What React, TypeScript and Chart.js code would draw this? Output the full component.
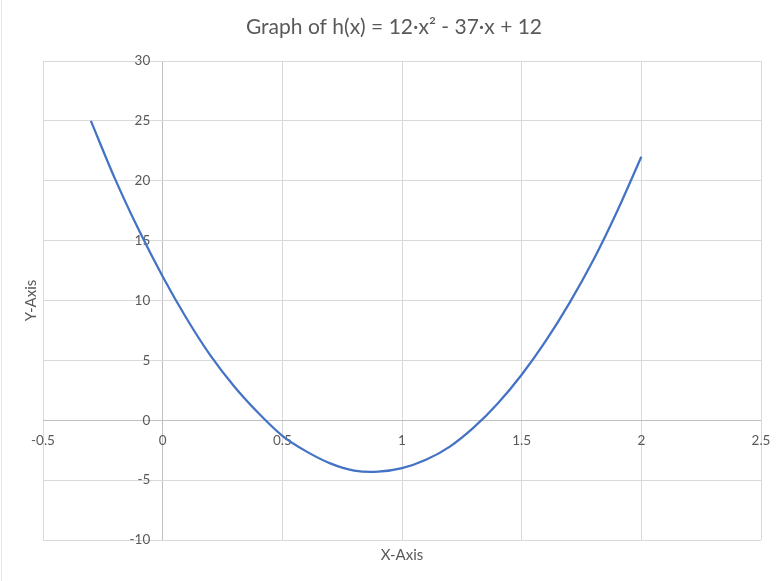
import React, { useEffect, useRef } from "react";
import { Chart, registerables } from "chart.js";

Chart.register(...registerables);

const TITLE = "Graph of h(x) = 12·x² - 37·x + 12";
const X_LABEL = "X-Axis";
const Y_LABEL = "Y-Axis";

const X_VALUES = [-0.3, -0.2, -0.1, 0, 0.1, 0.2, 0.3, 0.4, 0.5, 0.6, 0.7, 0.8, 0.9, 1.0, 1.1, 1.2, 1.3, 1.4, 1.5, 1.6, 1.7, 1.8, 1.9, 2.0];
const Y_VALUES = [25.0, 20.2, 15.9, 12.0, 8.5, 5.4, 2.8, 0.6, -1.3, -2.6, -3.6, -4.2, -4.3, -4.0, -3.3, -2.2, -0.6, 1.4, 3.8, 6.6, 9.8, 13.4, 17.5, 22.0];

const X_TICKS = [-0.5, 0, 0.5, 1, 1.5, 2, 2.5];
const Y_TICKS = [-10, -5, 0, 5, 10, 15, 20, 25, 30];

const GRID = "#d9d9d9";
const AXIS = "#bfbfbf";
const TEXT = "#595959";
const LINE = "#4472c4";
const FONT = "Lato, 'Open Sans', sans-serif";

export default function App() {
  const ref = useRef<HTMLCanvasElement | null>(null);

  useEffect(() => {
    if (!ref.current) return;
    const points = X_VALUES.map((x, i) => ({ x, y: Y_VALUES[i] }));
    const xMin = X_TICKS[0];
    const xMax = X_TICKS[X_TICKS.length - 1];
    const yMin = Y_TICKS[0];
    const yMax = Y_TICKS[Y_TICKS.length - 1];
    const setX = (s: any) => { s.ticks = X_TICKS.map((v) => ({ value: v })); };
    const setY = (s: any) => { s.ticks = Y_TICKS.map((v) => ({ value: v })); };
    const gridColor = (c: any) => (c.tick && c.tick.value === 0 ? AXIS : GRID);

    const chart = new Chart(ref.current, {
      type: "line",
      data: {
        datasets: [
          {
            data: points,
            borderColor: LINE,
            backgroundColor: LINE,
            borderWidth: 2.25,
            pointRadius: 0,
            tension: 0.3,
            fill: false,
          },
        ],
      },
      options: {
        animation: false,
        responsive: false,
        maintainAspectRatio: false,
        layout: { padding: { left: 27, right: 22, top: 0, bottom: 0 } },
        plugins: {
          legend: { display: false },
          tooltip: { enabled: false },
          title: {
            display: true,
            text: TITLE,
            color: TEXT,
            font: { family: FONT, size: 21, weight: "normal", lineHeight: 1.2 },
            padding: { top: 14.4, bottom: 21.4 },
          },
        },
        scales: {
          x: {
            type: "linear",
            position: "bottom",
            min: xMin,
            max: xMax,
            afterBuildTicks: setX,
            grid: { color: gridColor, lineWidth: 1, drawTicks: false },
            border: { display: false },
            ticks: { display: false },
            title: {
              display: true,
              text: X_LABEL,
              color: TEXT,
              font: { family: FONT, size: 15, lineHeight: 1.2 },
              padding: { top: 6, bottom: 17 },
            },
          },
          y: {
            type: "linear",
            position: "left",
            min: yMin,
            max: yMax,
            afterBuildTicks: setY,
            grid: { color: gridColor, lineWidth: 1, drawTicks: false },
            border: { display: false },
            ticks: { display: false },
            title: {
              display: true,
              text: Y_LABEL,
              color: TEXT,
              font: { family: FONT, size: 15, lineHeight: 1.2 },
              padding: { top: -5, bottom: 3 },
            },
          },
          xa: {
            type: "linear",
            axis: "x",
            position: { y: 0 },
            min: xMin,
            max: xMax,
            afterBuildTicks: setX,
            grid: { display: false, drawTicks: false },
            border: { display: false },
            ticks: {
              color: TEXT,
              font: { family: FONT, size: 13.5 },
              padding: 12,
              maxRotation: 0,
              callback: (v: any) => String(v),
            },
          },
          ya: {
            type: "linear",
            axis: "y",
            position: { x: -0.052 },
            min: yMin,
            max: yMax,
            afterBuildTicks: setY,
            grid: { display: false, drawTicks: false },
            border: { display: false },
            ticks: {
              color: TEXT,
              font: { family: FONT, size: 13.5 },
              padding: 0,
              callback: (v: any) => String(v),
            },
          },
        },
      } as any,
    });
    return () => chart.destroy();
  }, []);

  return (
    <div style={{ position: "fixed", left: 0, top: 0, width: 783, height: 581, background: "#fff" }}>
      <canvas ref={ref} width={783} height={581} style={{ display: "block", width: 783, height: 581 }} />
      <div style={{ position: "absolute", left: 1, top: 0, width: 1, height: 581, background: "#e4e4e4" }} />
    </div>
  );
}
